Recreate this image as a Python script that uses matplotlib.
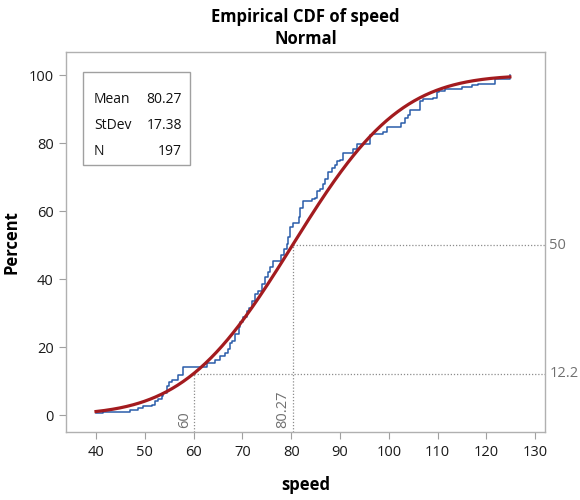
import math
import numpy as np
import matplotlib
matplotlib.use("Agg")
import matplotlib.pyplot as plt

# speed values where the empirical CDF steps, and how many observations sit there
step_speed = [40.0, 41.4, 47.0, 48.7, 49.7, 51.4, 52.1, 52.8, 53.5, 53.8,
              54.6, 55.0, 55.5, 56.8, 57.9, 62.8, 64.4, 65.4, 66.4, 67.1,
              67.5, 67.8, 68.5, 69.2, 69.6, 70.2, 70.9, 71.4, 71.9, 72.6,
              73.2, 74.0, 74.6, 75.2, 75.7, 76.2, 78.0, 78.6, 79.1, 79.4,
              79.8, 80.3, 81.5, 81.8, 82.5, 84.2, 84.9, 85.2, 85.9, 86.6,
              86.9, 87.6, 88.3, 89.0, 89.3, 90.0, 90.7, 92.7, 93.4, 96.1,
              96.5, 98.9, 99.6, 102.5, 103.3, 103.9, 104.3, 106.4, 107.0, 109.1,
              109.8, 110.3, 111.5, 114.9, 117.0, 118.3, 121.8, 124.8]
step_count = [1, 1, 1, 1, 1, 1, 2, 1, 2, 2,
              4, 2, 1, 3, 5, 2, 2, 2, 2, 2,
              4, 1, 4, 4, 3, 3, 3, 2, 4, 4,
              2, 4, 4, 3, 3, 3, 4, 3, 3, 4,
              6, 2, 4, 5, 4, 1, 1, 4, 1, 3,
              3, 4, 2, 2, 2, 1, 4, 2, 3, 5,
              1, 1, 3, 2, 3, 2, 3, 5, 1, 1,
              3, 1, 1, 1, 1, 1, 3, 2]

mean = 80.27
stdev = 17.38
n_obs = 197
ref_x = [60, 80.27]
ref_pct = [12.2, 50]
ref_x_labels = ["60", "80.27"]
ref_pct_labels = ["12.2", "50"]

speed = np.repeat(step_speed, step_count)
xs = np.sort(speed)
ys = np.arange(1, len(xs) + 1) / len(xs) * 100

grid = np.linspace(xs.min(), xs.max(), 300)
fit = np.array([50 * (1 + math.erf((g - mean) / (stdev * math.sqrt(2)))) for g in grid])

plt.rcParams["font.family"] = ["Open Sans", "DejaVu Sans"]

fig = plt.figure(figsize=(5.8, 5.0), dpi=100)
ax = fig.add_axes([0.1138, 0.136, 0.8259, 0.76])

xmin, xmax = 33.85, 132.0
ymin, ymax = -5.0, 106.8
ax.set_xlim(xmin, xmax)
ax.set_ylim(ymin, ymax)

ax.step(xs, ys, where="post", color="#2a5caa", lw=1.1, zorder=3)
ax.plot(grid, fit, color="#a31b1f", lw=2.3, zorder=4)

ref_color = "#8c8c8c"
for rx, rp, xl, pl in zip(ref_x, ref_pct, ref_x_labels, ref_pct_labels):
    ax.plot([rx, rx], [ymin, rp], ls=(0, (1, 1.5)), color=ref_color, lw=0.9, zorder=2)
    ax.plot([rx, xmax], [rp, rp], ls=(0, (1, 1.5)), color=ref_color, lw=0.9, zorder=2)
    ax.text(rx - 0.4, ymin + 1.2, xl, rotation=90, ha="right", va="bottom",
            color="#707070", fontsize=10.5)
    ax.text(xmax + 0.9, rp, pl, ha="left", va="center", color="#707070",
            fontsize=10.5, clip_on=False)

ax.set_xticks(np.arange(40, 131, 10))
ax.set_yticks(np.arange(0, 101, 20))
ax.tick_params(direction="out", length=5, color="#a0a0a0", labelsize=10.5,
               labelcolor="#1a1a1a", pad=4)
for s in ax.spines.values():
    s.set_color("#b0b0b0")
    s.set_linewidth(1.0)

ax.set_xlabel("speed", fontsize=12, fontweight="bold")
ax.set_ylabel("Percent", fontsize=12, fontweight="bold")
ax.xaxis.set_label_coords(0.5, -0.115)
ax.yaxis.set_label_coords(-0.096, 0.5)
fig.text(0.527, 0.965, "Empirical CDF of speed", ha="center", va="center",
         fontsize=12, fontweight="bold")
fig.text(0.527, 0.923, "Normal", ha="center", va="center",
         fontsize=12, fontweight="bold")

# statistics box
box = plt.Rectangle((0.0355, 0.703), 0.2235, 0.244, transform=ax.transAxes,
                    fill=True, facecolor="white", edgecolor="#a0a0a0", lw=1.0, zorder=5)
ax.add_patch(box)
rows = [("Mean", f"{mean:.2f}"), ("StDev", f"{stdev:.2f}"), ("N", f"{n_obs}")]
for i, (lab, val) in enumerate(rows):
    yy = 0.874 - i * 0.068
    ax.text(0.058, yy, lab, transform=ax.transAxes, ha="left", va="center",
            fontsize=10, color="#111111", zorder=6)
    ax.text(0.242, yy, val, transform=ax.transAxes, ha="right", va="center",
            fontsize=10, color="#111111", zorder=6)

fig.savefig("out.png", dpi=100)
